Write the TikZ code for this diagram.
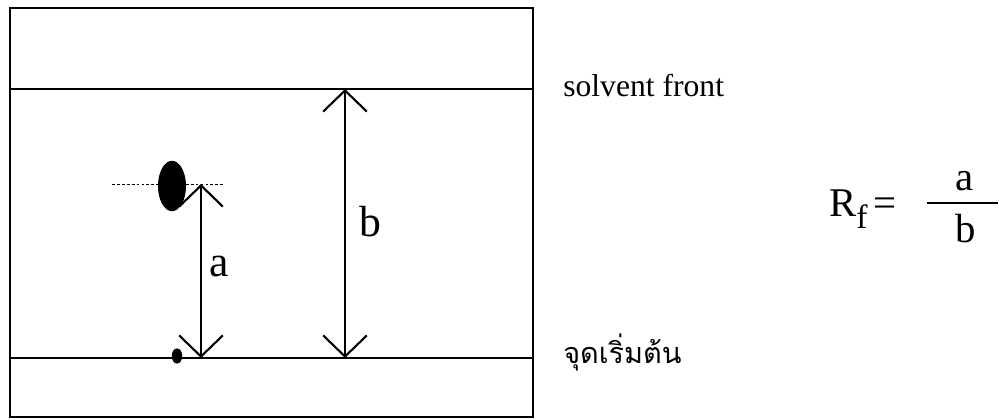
\documentclass[tikz,border=0pt]{standalone}
\usepackage{fontspec}
\setmainfont{Liberation Serif}
\newfontfamily\thaifont[Script=Thai]{Loma}
\usetikzlibrary{arrows.meta}

\begin{document}
\begin{tikzpicture}[x=0.025cm, y=-0.025cm, line width=1.8pt,
    >={Straight Barb[length=15pt, width=31pt]},
    dist/.style={<->, line width=1.5pt},
    lbl/.style={inner sep=0pt, font=\fontsize{31}{36}\selectfont},
    eq/.style={inner sep=0pt, anchor=base, font=\fontsize{29}{34}\selectfont},
    side/.style={inner sep=0pt, anchor=base west, font=\fontsize{22.5}{27}\selectfont}]
  \useasboundingbox (0,0) rectangle (999,420);
  % placa: borde, frente y línea de partida
  \coordinate (P1) at (10,8);
  \coordinate (P2) at (533,417);
  \coordinate (F1) at (10,89);
  \coordinate (F2) at (533,89);
  \coordinate (S1) at (10,358);
  \coordinate (S2) at (533,358);
  \draw (P1) rectangle (P2);
  \draw (F1)--(F2) (S1)--(S2);
  % manchas
  \draw[line width=0.5pt, dash pattern=on 2pt off 1.5pt] (112,184)--(223,184);
  \fill (172,186) ellipse [x radius=0.35cm, y radius=0.63cm];
  \fill (177,356) ellipse [x radius=0.13cm, y radius=0.19cm];
  % distancias a y b
  \coordinate (aT) at (201,184);
  \coordinate (aB) at (201,358);
  \coordinate (bT) at (345,89);
  \coordinate (bB) at (345,358);
  \draw[dist] (aB)--(aT);
  \draw[dist] (bB)--(bT);
  \node[lbl] (a) at (219,266) {a};
  \node[lbl] (b) at (370,222) {b};
  % etiquetas
  \node[side] (front) at (562,97) {solvent front};
  \node[side, font=\fontsize{20.5}{25}\thaifont] (start) at (562,363) {จุดเริ่มต้น};
  % R_f = a/b
  \node[eq, anchor=base west] (rf) at (828,216) {R\raisebox{-0.3em}{\fontsize{24}{28}\selectfont f}\hspace{0.15em}=};
  \node[eq] (fa) at (965,190) {a};
  \node[eq] (fb) at (966,242) {b};
  \coordinate (L1) at (927,203);
  \coordinate (L2) at (998,203);
  \draw[line width=0.8pt] (L1)--(L2);
\end{tikzpicture}
\end{document}
